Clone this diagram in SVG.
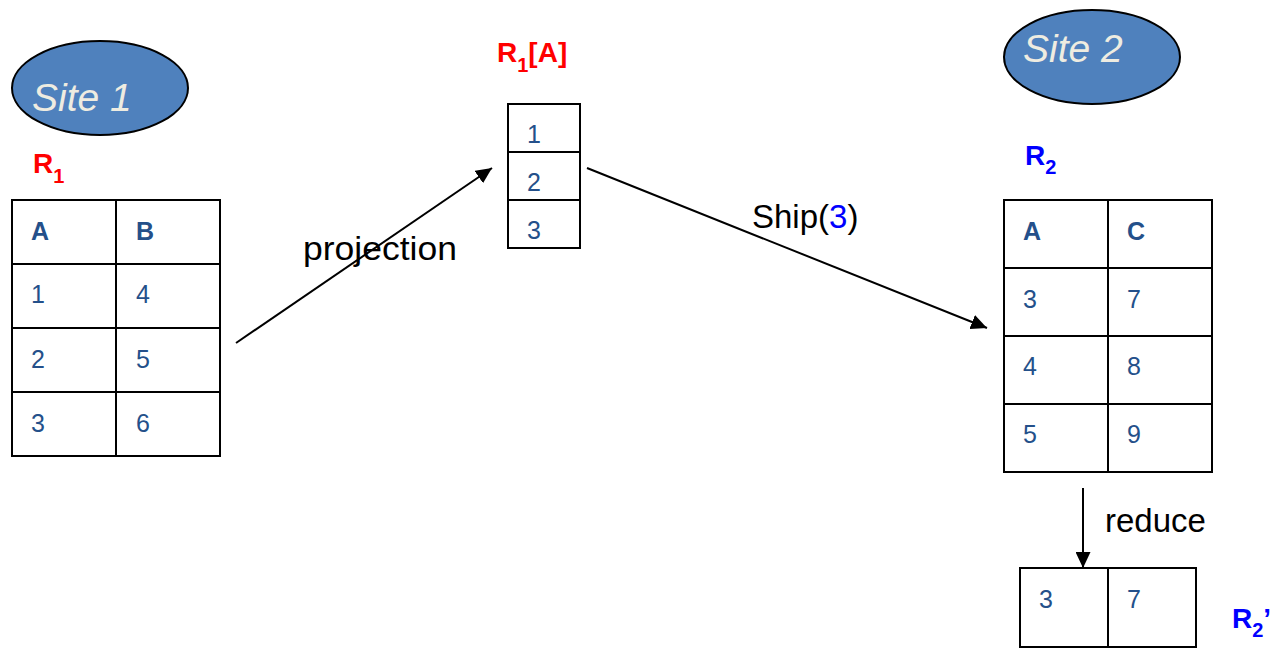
<svg xmlns="http://www.w3.org/2000/svg" width="1281" height="648" viewBox="0 0 1281 648">
<style>
.cell{fill:#fff;stroke:#000;stroke-width:2}
.grid{stroke:#000;stroke-width:2;fill:none}
.val{font-family:"Liberation Sans",Arial,sans-serif;font-size:25px;fill:#24508a}
.hdr{font-family:"Liberation Sans",Arial,sans-serif;font-size:25px;font-weight:bold;fill:#24508a}
.site{fill:#4f81bd;stroke:#000;stroke-width:2}
.sitet{font-family:"Liberation Sans",Arial,sans-serif;font-size:39px;font-style:italic;fill:#eeece1}
.lbl{font-family:"Liberation Sans",Arial,sans-serif;font-size:33px;fill:#000}
.red{font-family:"Liberation Sans",Arial,sans-serif;font-weight:bold;font-size:28px;fill:#ff0000}
.blue{font-family:"Liberation Sans",Arial,sans-serif;font-weight:bold;font-size:28px;fill:#0000ff}
.conn{stroke:#000;stroke-width:2;fill:none}
</style>
<defs>
<marker id="ah" markerUnits="userSpaceOnUse" markerWidth="16" markerHeight="15" refX="16" refY="7.5" orient="auto">
<path d="M0,0 L16,7.5 L0,15 z" fill="#000"/>
</marker>
</defs>

<g id="site1">
<ellipse class="site" cx="100" cy="88" rx="88" ry="47"/>
<text class="sitet" x="32" y="111">Site 1</text>
</g>

<g id="site2">
<ellipse class="site" cx="1092" cy="57" rx="88" ry="47"/>
<text class="sitet" x="1023" y="62">Site 2</text>
</g>

<g id="r1">
<text class="red" x="33" y="173">R<tspan font-size="20" dy="10">1</tspan></text>
<rect class="cell" x="12" y="200" width="208" height="256"/>
<path class="grid" d="M116,200 V456 M12,264 H220 M12,328 H220 M12,392 H220"/>
<text class="hdr" x="31" y="240">A</text>
<text class="hdr" x="136" y="240">B</text>
<text class="val" x="31" y="303">1</text>
<text class="val" x="136" y="303">4</text>
<text class="val" x="31" y="368">2</text>
<text class="val" x="136" y="368">5</text>
<text class="val" x="31" y="432">3</text>
<text class="val" x="136" y="432">6</text>
</g>

<g id="r1a">
<text class="red" x="497" y="62">R<tspan font-size="20" dy="10">1</tspan><tspan dy="-10">[A]</tspan></text>
<rect class="cell" x="508" y="104" width="72" height="144"/>
<path class="grid" d="M508,152 H580 M508,200 H580"/>
<text class="val" x="527" y="143">1</text>
<text class="val" x="527" y="191">2</text>
<text class="val" x="527" y="239">3</text>
</g>

<g id="r2">
<text class="blue" x="1025" y="165">R<tspan font-size="20" dy="9">2</tspan></text>
<rect class="cell" x="1004" y="200" width="208" height="272"/>
<path class="grid" d="M1108,200 V472 M1004,268 H1212 M1004,336 H1212 M1004,404 H1212"/>
<text class="hdr" x="1023" y="240">A</text>
<text class="hdr" x="1127" y="240">C</text>
<text class="val" x="1023" y="308">3</text>
<text class="val" x="1127" y="308">7</text>
<text class="val" x="1023" y="375">4</text>
<text class="val" x="1127" y="375">8</text>
<text class="val" x="1023" y="443">5</text>
<text class="val" x="1127" y="443">9</text>
</g>

<g id="r2p">
<rect class="cell" x="1020" y="568" width="176" height="79"/>
<path class="grid" d="M1108,568 V647"/>
<text class="val" x="1039" y="608">3</text>
<text class="val" x="1127" y="608">7</text>
<text class="blue" x="1232" y="628">R<tspan font-size="20" dy="9">2</tspan><tspan dy="-9">’</tspan></text>
</g>

<g id="connectors">
<line class="conn" x1="236" y1="343" x2="492" y2="168" marker-end="url(#ah)"/>
<line class="conn" x1="587" y1="168" x2="987" y2="328" marker-end="url(#ah)"/>
<line class="conn" x1="1083" y1="488" x2="1083" y2="568" marker-end="url(#ah)"/>
<text class="lbl" x="303" y="260" textLength="154" lengthAdjust="spacingAndGlyphs">projection</text>
<text class="lbl" x="752" y="228">Ship(<tspan fill="#0000ff">3</tspan>)</text>
<text class="lbl" x="1105" y="532">reduce</text>
</g>
</svg>
